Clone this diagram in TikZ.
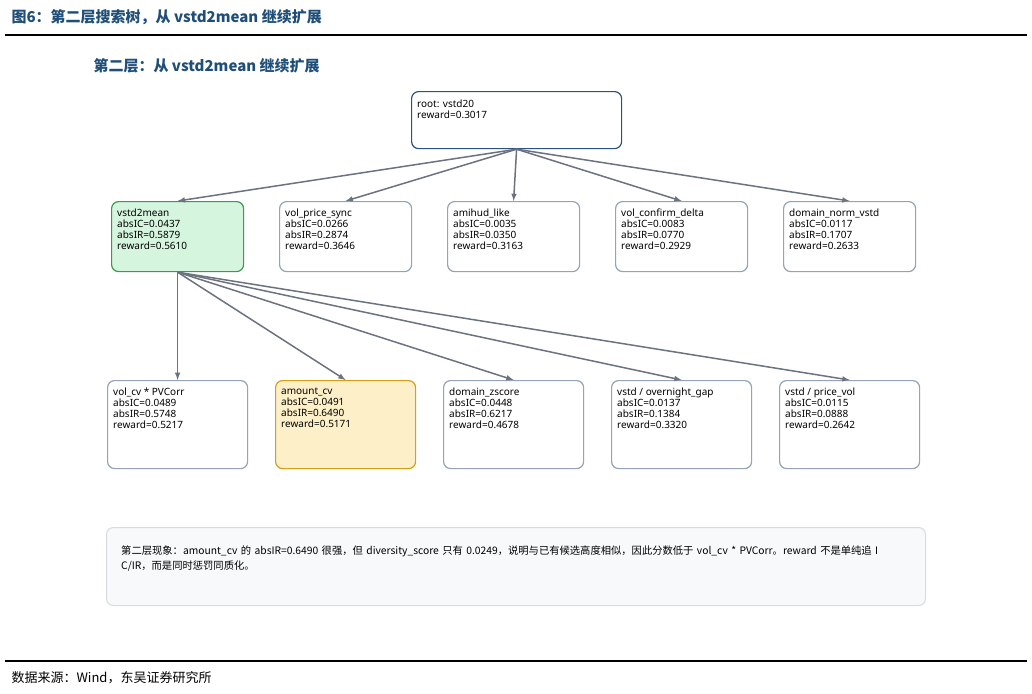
\documentclass[tikz,border=0pt]{standalone}
\usepackage{fontspec}
\setmainfont{Liberation Serif}
\newfontfamily\cjk{Noto Sans CJK SC}
\newfontfamily\sans{Noto Sans}
\usetikzlibrary{positioning}
\definecolor{boxline}{HTML}{94A3B8}
\definecolor{arrowc}{HTML}{6B7280}
\definecolor{rootline}{HTML}{2C5282}
\definecolor{titleblue}{HTML}{1F4E79}
\definecolor{greenfill}{HTML}{D5F5DE}
\definecolor{greenline}{HTML}{3A9A4F}
\definecolor{yellowfill}{HTML}{FDF0C8}
\definecolor{yellowline}{HTML}{D4A017}
\definecolor{notefill}{HTML}{F7F9FB}
\definecolor{noteline}{HTML}{D5DCE4}
\tikzset{
  box/.style={draw=boxline, line width=1.2pt, rounded corners=7pt, fill=white, anchor=north west, inner sep=0pt},
  lbl/.style={anchor=north west, font=\sans\fontsize{10}{11}\selectfont, align=left, inner sep=0pt},
  link/.style={draw=arrowc, line width=1.5pt, -latex}
}
\begin{document}
\begin{tikzpicture}[x=1pt, y=-1pt]
\useasboundingbox (0,0) rectangle (1032,693);

% heading and rules
\node[anchor=west, font=\cjk\bfseries\fontsize{15}{17}\selectfont, text=titleblue] (title) at (8,17) {图6：第二层搜索树，从 vstd2mean 继续扩展};
\draw[line width=1.5pt] (5,35) -- (1027,35);
\node[anchor=west, font=\cjk\bfseries\fontsize{15}{17}\selectfont, text=titleblue] (sub) at (90,66) {第二层：从 vstd2mean 继续扩展};

% root
\node[box, draw=rootline, minimum width=210pt, minimum height=57pt] (root) at (411,91) {};
\node[lbl] at ([xshift=6pt, yshift=-9pt]root.north west) {root: vstd20\\reward=0.3017};

% first level
\foreach \n/\x/\t/\a/\b/\r in {
  a/279/vol\_price\_sync/0.0266/0.2874/0.3646,
  b/447/amihud\_like/0.0035/0.0350/0.3163,
  c/615/vol\_confirm\_delta/0.0083/0.0770/0.2929,
  d/783/domain\_norm\_vstd/0.0117/0.1707/0.2633}{
  \node[box, minimum width=132pt, minimum height=70pt] (\n) at (\x,201) {};
  \node[lbl] at ([xshift=6pt, yshift=-8pt]\n.north west) {\t\\absIC=\a\\absIR=\b\\reward=\r};
  \draw[link] (root.south) -- (\n.north);
}
\node[box, draw=greenline, fill=greenfill, minimum width=132pt, minimum height=70pt] (best) at (111,201) {};
\node[lbl] at ([xshift=6pt, yshift=-8pt]best.north west) {vstd2mean\\absIC=0.0437\\absIR=0.5879\\reward=0.5610};
\draw[link] (root.south) -- (best.north);

% second level
\foreach \n/\x/\t/\a/\b/\r in {
  p/107/{vol\_cv * PVCorr}/0.0489/0.5748/0.5217,
  r/443/{domain\_zscore}/0.0448/0.6217/0.4678,
  s/611/{vstd / overnight\_gap}/0.0137/0.1384/0.3320,
  t/779/{vstd / price\_vol}/0.0115/0.0888/0.2642}{
  \node[box, minimum width=140pt, minimum height=88pt] (\n) at (\x,380) {};
  \node[lbl] at ([xshift=6pt, yshift=-8pt]\n.north west) {\t\\absIC=\a\\absIR=\b\\reward=\r};
  \draw[link] (best.south) -- (\n.north);
}
\node[box, draw=yellowline, fill=yellowfill, minimum width=140pt, minimum height=88pt] (q) at (275,380) {};
\node[lbl] at ([xshift=6pt, yshift=-8pt]q.north west) {amount\_cv\\absIC=0.0491\\absIR=0.6490\\reward=0.5171};
\draw[link] (best.south) -- (q.north);

% note
\node[box, draw=noteline, fill=notefill, line width=1pt, minimum width=819pt, minimum height=78pt] (note) at (106,527) {};
\node[lbl, font=\cjk\fontsize{10.3}{15}\selectfont, text width=800pt] at ([xshift=15pt, yshift=-19pt]note.north west) {第二层现象：amount\_cv 的 absIR=0.6490 很强，但 diversity\_score 只有 0.0249，说明与已有候选高度相似，因此分数低于 vol\_cv * PVCorr。reward 不是单纯追 I\\C/IR，而是同时惩罚同质化。};

% footer
\draw[line width=1.5pt] (5,661) -- (1027,661);
\node[anchor=west, font=\cjk\fontsize{13}{15}\selectfont] (src) at (8,678) {数据来源：Wind，东吴证券研究所};
\end{tikzpicture}
\end{document}
